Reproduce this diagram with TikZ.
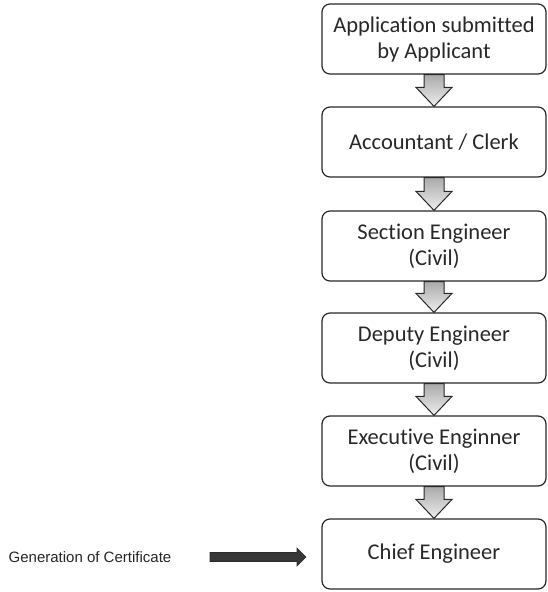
\documentclass[tikz,border=0pt]{standalone}
\usepackage{fontspec}
\setmainfont[Ligatures=NoCommon]{Carlito}
\newfontfamily\labelfont{Liberation Sans}
\usetikzlibrary{calc}
\definecolor{boxline}{RGB}{40,40,40}
\definecolor{boxtext}{RGB}{40,40,40}
\definecolor{darkarrow}{RGB}{55,55,55}
\tikzset{
  stagebox/.style={draw=boxline, line width=1.2pt, rounded corners=8pt,
    minimum width=224pt, minimum height=70pt, align=center,
    text=boxtext, font=\fontsize{22.5}{26}\selectfont, inner sep=0pt},
  flowarrow/.style={draw=boxline, line width=1pt, line join=miter,
    top color={rgb,255:red,170;green,170;blue,170},
    bottom color={rgb,255:red,238;green,238;blue,238}},
  outarrow/.style={draw=darkarrow!80!black, line width=0.6pt, fill=darkarrow},
  sidelabel/.style={font=\labelfont\fontsize{15}{18}\selectfont, text=black!85, inner sep=0pt}
}
\begin{document}
\begin{tikzpicture}[x=1pt, y=-1pt]
  \useasboundingbox (0,0) rectangle (548,592);

  % stages of the approval chain
  \node[stagebox] (apply) at (434,39)  {Application submitted\\by Applicant};
  \node[stagebox] (clerk) at (434,142) {Accountant / Clerk};
  \node[stagebox] (se)    at (434,246) {Section Engineer\\(Civil)};
  \node[stagebox] (de)    at (434,348) {Deputy Engineer\\(Civil)};
  \node[stagebox] (ee)    at (434,451) {Executive Enginner\\(Civil)};
  \node[stagebox] (ce)    at (434,554) {Chief Engineer};

  % hollow block arrows between consecutive stages
  \foreach \a/\b in {apply/clerk, clerk/se, se/de, de/ee, ee/ce} {
    \path[flowarrow]
      ($(\a.south)+(-10pt,0pt)$) -- ($(\b.north)+(-10pt,19pt)$)
      -- ($(\b.north)+(-18pt,19pt)$) -- (\b.north)
      -- ($(\b.north)+(18pt,19pt)$) -- ($(\b.north)+(10pt,19pt)$)
      -- ($(\a.south)+(10pt,0pt)$) -- cycle;
  }

  % certificate label with its solid arrow
  \node[sidelabel] (cert) at (90,557) {Generation of Certificate};
  \coordinate (gs) at (210,557);
  \coordinate (ge) at (306,557);
  \path[outarrow]
    ($(gs)+(0pt,4.5pt)$) -- ($(ge)+(-9pt,4.5pt)$) -- ($(ge)+(-9pt,9pt)$)
    -- (ge) -- ($(ge)+(-9pt,-9pt)$) -- ($(ge)+(-9pt,-4.5pt)$)
    -- ($(gs)+(0pt,-4.5pt)$) -- cycle;
\end{tikzpicture}
\end{document}
